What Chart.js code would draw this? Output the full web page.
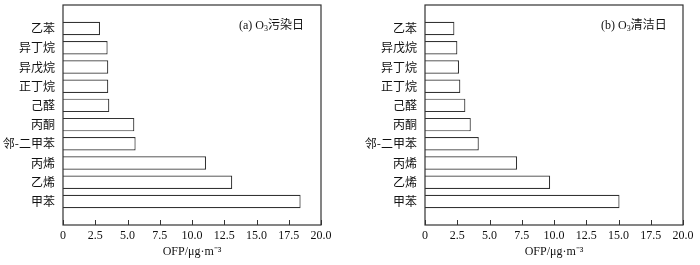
<!DOCTYPE html>
<html>
<head>
<meta charset="utf-8">
<script src="https://cdn.jsdelivr.net/npm/chart.js@4.4.1/dist/chart.umd.min.js"></script>
<style>
    body { margin: 0; background: #fff; width: 700px; height: 265px; position: relative; overflow: hidden; }
    .box { position: absolute; top: 0; height: 265px; }
</style>
</head>
<body>
<div class="box" style="left:0;width:340px"><canvas id="chart1"></canvas></div>
<div class="box" style="left:350px;width:350px"><canvas id="chart2"></canvas></div>

<script>
    // top-to-bottom order as in the figure
    const labels_a = ['乙苯', '异丁烷', '异戊烷', '正丁烷', '己醛', '丙酮', '邻-二甲苯', '丙烯', '乙烯', '甲苯'];
    const values_a = [2.87, 3.46, 3.51, 3.51, 3.59, 5.53, 5.63, 11.09, 13.12, 18.42];

    const labels_b = ['乙苯', '异戊烷', '异丁烷', '正丁烷', '己醛', '丙酮', '邻-二甲苯', '丙烯', '乙烯', '甲苯'];
    const values_b = [2.28, 2.51, 2.64, 2.74, 3.13, 3.55, 4.17, 7.14, 9.70, 15.08];

    const x_ticks = [0, 2.5, 5, 7.5, 10, 12.5, 15, 17.5, 20];

    const serif = '"Liberation Serif", "Times New Roman", serif';
    const cjk = '"Noto Sans CJK SC", sans-serif';

    // box around plot, inward x ticks, panel label
    const frame = {
        id: 'frame',
        afterDatasetsDraw(chart, args, opts) {
            const { ctx, chartArea: a, scales: { x } } = chart;
            ctx.save();
            ctx.strokeStyle = '#333';
            ctx.lineWidth = 1.2;
            ctx.strokeRect(a.left, a.top, a.right - a.left, a.bottom - a.top);
            ctx.beginPath();
            x.ticks.forEach(t => {
                const px = Math.round(x.getPixelForValue(t.value)) + 0.5;
                ctx.moveTo(px, a.bottom);
                ctx.lineTo(px, a.bottom - 5);
            });
            ctx.lineWidth = 1;
            ctx.stroke();

            ctx.fillStyle = '#111';
            let x0 = a.left + 176, y0 = a.top + 24;
            ctx.font = '12px ' + serif;
            ctx.fillText(opts.pre, x0, y0);
            x0 += ctx.measureText(opts.pre).width;
            ctx.font = '8px ' + serif;
            ctx.fillText('3', x0, y0 + 2);
            x0 += ctx.measureText('3').width;
            ctx.font = '12px ' + cjk;
            ctx.fillText(opts.tail, x0, y0);
            ctx.restore();
        }
    };

    function make_chart(id, labels, values, yWidth, padRight, pre, tail) {
        new Chart(document.getElementById(id), {
            type: 'bar',
            data: {
                datasets: [{
                    data: values.map((v, i) => ({ x: v, y: i })),
                    backgroundColor: '#fff',
                    borderColor: '#333',
                    borderWidth: 1.2,
                    barPercentage: 0.7,
                    categoryPercentage: 1
                }]
            },
            options: {
                indexAxis: 'y',
                responsive: true,
                maintainAspectRatio: false,
                animation: false,
                layout: { padding: { top: 5, right: padRight, left: 0, bottom: 0 } },
                plugins: {
                    legend: { display: false },
                    tooltip: { enabled: false },
                    frame: { pre: pre, tail: tail }
                },
                scales: {
                    x: {
                        type: 'linear',
                        min: 0,
                        max: 20,
                        afterBuildTicks: s => { s.ticks = x_ticks.map(v => ({ value: v })); },
                        afterFit: s => { s.height = 40; s.paddingLeft = 0; s.paddingRight = 0; },
                        grid: { display: false, drawTicks: false },
                        border: { display: false },
                        ticks: {
                            padding: 4,
                            maxRotation: 0,
                            color: '#111',
                            font: { family: serif, size: 12 },
                            callback: v => v === 0 ? '0' : v.toFixed(1)
                        },
                        title: {
                            display: true,
                            text: 'OFP/μg·m⁻³',
                            color: '#111',
                            font: { family: serif, size: 12 },
                            padding: { top: 0, bottom: 6 }
                        }
                    },
                    y: {
                        type: 'linear',
                        min: -0.65,
                        max: 9.65,
                        reverse: true,
                        afterBuildTicks: s => { s.ticks = labels.map((l, i) => ({ value: i })); },
                        afterFit: s => { s.width = yWidth; s.paddingTop = 0; s.paddingBottom = 0; },
                        grid: { display: false, drawTicks: false },
                        border: { display: false },
                        ticks: {
                            padding: 8,
                            color: '#111',
                            font: { family: cjk, size: 12 },
                            callback: v => labels[v]
                        }
                    }
                }
            },
            plugins: [frame]
        });
    }

    make_chart('chart1', labels_a, values_a, 63, 19, '(a) O', '污染日');
    make_chart('chart2', labels_b, values_b, 75, 17, '(b) O', '清洁日');
</script>
</body>
</html>
